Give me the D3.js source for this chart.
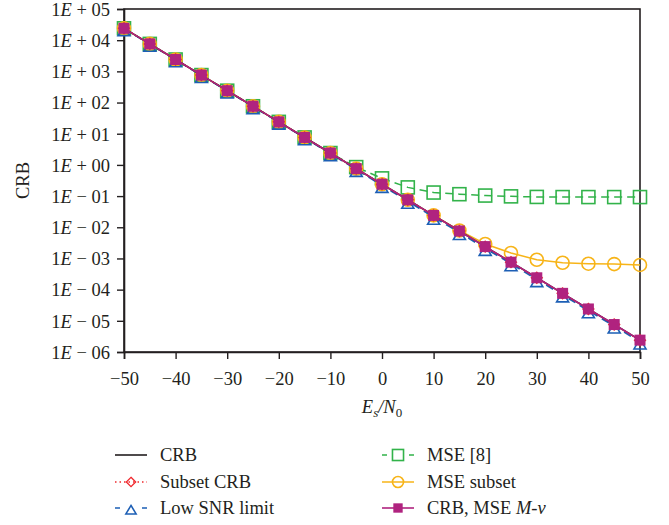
<!DOCTYPE html>
<html>
<head>
<meta charset="utf-8">
<script src="https://cdn.jsdelivr.net/npm/d3@7"></script>
<style>
  html, body { margin: 0; padding: 0; background: #fff; }
  svg { display: block; }
  text { font-family: "Liberation Serif", "DejaVu Serif", serif; fill: #231f20; }
</style>
</head>
<body>
<svg id="chart" width="669" height="525"></svg>
<script>
// Es/N0 (dB) sample points
const snr = [-50, -45, -40, -35, -30, -25, -20, -15, -10, -5, 0, 5, 10, 15, 20, 25, 30, 35, 40, 45, 50];

// Cramér–Rao bound
const crb = [24000, 7600, 2400, 760, 240, 76, 24, 7.6, 2.4, 0.76, 0.24, 0.076, 0.024, 0.0076, 0.0024,
             7.6e-4, 2.4e-4, 7.6e-5, 2.4e-5, 7.6e-6, 2.4e-6];
// Subset CRB
const subsetCrb = [24000, 7600, 2400, 760, 240, 76, 24, 7.6, 2.4, 0.76, 0.24, 0.076, 0.024, 0.0076, 0.0024,
                   7.6e-4, 2.4e-4, 7.6e-5, 2.4e-5, 7.6e-6, 2.4e-6];
// Low SNR limit
const lowSnr = [23500, 7400, 2350, 740, 235, 74, 23.5, 7.4, 2.3, 0.72, 0.22, 0.068, 0.021, 0.0068, 0.0021,
                6.8e-4, 2.1e-4, 6.8e-5, 2.1e-5, 6.8e-6, 2.1e-6];
// MSE of the estimator from [8]
const mse8 = [24000, 7600, 2400, 760, 240, 76, 24, 7.6, 2.4, 0.85, 0.37, 0.19, 0.13, 0.115, 0.104,
              0.098, 0.094, 0.093, 0.093, 0.093, 0.093];
// MSE of the subset estimator
const mseSubset = [24000, 7600, 2400, 760, 240, 76, 24, 7.6, 2.4, 0.76, 0.24, 0.076, 0.024, 0.0079, 0.0029,
                   0.0015, 9.1e-4, 7.3e-4, 6.8e-4, 6.6e-4, 6.2e-4];
// CRB and MSE of the M-nu estimator
const crbMnu = [24000, 7600, 2400, 760, 240, 76, 24, 7.6, 2.4, 0.76, 0.24, 0.076, 0.024, 0.0076, 0.0024,
                7.6e-4, 2.4e-4, 7.6e-5, 2.4e-5, 7.6e-6, 2.4e-6];

// Axis ticks
const xTicks = [-50, -40, -30, -20, -10, 0, 10, 20, 30, 40, 50];
const yExponents = [5, 4, 3, 2, 1, 0, -1, -2, -3, -4, -5, -6];

const svg = d3.select("#chart");
const L = 124, R = 640, T = 9, B = 352;

const x = d3.scaleLinear().domain([-50, 50]).range([L, R]);
const y = d3.scaleLog().domain([1e-6, 1e5]).range([B, T]);

// Plot frame
svg.append("rect").attr("x", L).attr("y", T).attr("width", R - L).attr("height", B - T)
  .attr("fill", "none").attr("stroke", "#231f20").attr("stroke-width", 1.6);

// Y axis
const yAxis = d3.axisLeft(y).tickValues(yExponents.map(e => Math.pow(10, e)))
  .tickSize(7).tickFormat(() => "");
const gy = svg.append("g").attr("transform", `translate(${L},0)`).call(yAxis);
gy.select(".domain").attr("stroke", "#231f20").attr("stroke-width", 1.6);
gy.selectAll(".tick line").attr("stroke", "#231f20").attr("stroke-width", 1.4);
gy.selectAll(".tick").each(function(d) {
  const e = Math.round(Math.log10(d));
  const sign = e < 0 ? "\u2212" : "+";
  const digits = String(Math.abs(e)).padStart(2, "0");
  const t = d3.select(this).append("text")
    .attr("x", -14).attr("dy", "0.34em")
    .attr("text-anchor", "end")
    .attr("xml:space", "preserve")
    .style("font-size", "18.5px");
  t.append("tspan").text("1");
  t.append("tspan").style("font-style", "italic").text("E");
  t.append("tspan").text(` ${sign} ${digits}`);
});

// X axis
const xAxis = d3.axisBottom(x).tickValues(xTicks).tickSize(7)
  .tickFormat(d => d < 0 ? "\u2212" + Math.abs(d) : String(d));
const gx = svg.append("g").attr("transform", `translate(0,${B})`).call(xAxis);
gx.select(".domain").attr("stroke", "#231f20").attr("stroke-width", 1.6);
gx.selectAll(".tick line").attr("stroke", "#231f20").attr("stroke-width", 1.4);
gx.selectAll(".tick text").attr("y", 20).attr("dy", "0.71em")
  .style("font-size", "18.5px").style("font-family", "Liberation Serif, serif").attr("fill", "#231f20");

// Axis titles
svg.append("text").attr("transform", `translate(29,${(T + B) / 2}) rotate(-90)`)
  .attr("text-anchor", "middle").style("font-size", "18.5px").text("CRB");
const xt = svg.append("text").attr("x", (L + R) / 2).attr("y", 413)
  .attr("text-anchor", "middle").style("font-size", "18.5px");
xt.append("tspan").style("font-style", "italic").text("E");
xt.append("tspan").style("font-style", "italic").attr("dy", 4).style("font-size", "13px").text("s");
xt.append("tspan").style("font-style", "italic").attr("dy", -4).text("/N");
xt.append("tspan").attr("dy", 4).style("font-size", "13px").text("0");

// Marker renderers (k scales the glyph, used smaller in the legend)
const markers = {
  squareOpen: (g, s, k = 1) => g.append("rect").attr("x", -6.5 * k).attr("y", -6.5 * k)
      .attr("width", 13 * k).attr("height", 13 * k)
      .attr("fill", "none").attr("stroke", s.color).attr("stroke-width", 1.6),
  circle: (g, s, k = 1) => g.append("circle").attr("r", 6.5 * k)
      .attr("fill", "none").attr("stroke", s.color).attr("stroke-width", 1.6),
  triangle: (g, s, k = 1) => g.append("path")
      .attr("d", `M0,${-3 * k} L${6 * k},${7 * k} L${-6 * k},${7 * k} Z`)
      .attr("fill", "none").attr("stroke", s.color).attr("stroke-width", 1.6),
  diamond: (g, s, k = 1) => g.append("path")
      .attr("d", `M0,${-5.5 * k} L${5.5 * k},0 L0,${5.5 * k} L${-5.5 * k},0 Z`)
      .attr("fill", "none").attr("stroke", s.color).attr("stroke-width", 1.3),
  squareFilled: (g, s, k = 1) => g.append("rect").attr("x", -5.5 * k).attr("y", -5.5 * k)
      .attr("width", 11 * k).attr("height", 11 * k)
      .attr("fill", s.color).attr("stroke", "none"),
  none: () => {}
};

// Series, listed in drawing order (back to front)
const series = [
  { name: "MSE [8]", values: mse8, color: "#32b34a", dash: "8,5", width: 1.5, marker: "squareOpen" },
  { name: "MSE subset", values: mseSubset, color: "#f7b418", dash: null, width: 1.5, marker: "circle" },
  { name: "Low SNR limit", values: lowSnr, color: "#1d5fb5", dash: "8,5", width: 1.6, marker: "triangle" },
  { name: "CRB", values: crb, color: "#231f20", dash: null, width: 1.6, marker: "none" },
  { name: "Subset CRB", values: subsetCrb, color: "#f0282d", dash: "1.5,3", width: 1.5, marker: "diamond" },
  { name: "CRB, MSE M-\u03bd", values: crbMnu, color: "#b0237f", dash: null, width: 1.6, marker: "squareFilled" }
];

const line = d3.line().x((d, i) => x(snr[i])).y(d => y(d));
const plot = svg.append("g");
series.forEach(s => {
  plot.append("path").datum(s.values).attr("d", line)
    .attr("fill", "none").attr("stroke", s.color).attr("stroke-width", s.width)
    .attr("stroke-dasharray", s.dash);
  s.values.forEach((v, i) => {
    const g = plot.append("g").attr("transform", `translate(${x(snr[i])},${y(v)})`);
    markers[s.marker](g, s);
  });
});

// Legend
const legendItems = [
  { s: series[3], col: 0, row: 0 },
  { s: series[4], col: 0, row: 1 },
  { s: series[2], col: 0, row: 2 },
  { s: series[0], col: 1, row: 0 },
  { s: series[1], col: 1, row: 1 },
  { s: series[5], col: 1, row: 2 }
];
const colX = [115, 382], rowY = [455, 482, 508];
legendItems.forEach(it => {
  const s = it.s;
  const g = svg.append("g").attr("transform", `translate(${colX[it.col]},${rowY[it.row]})`);
  let dash = s.dash;
  if (s.name === "MSE [8]" || s.name === "Low SNR limit") dash = "5,22,5";
  g.append("line").attr("x1", 0).attr("x2", 32).attr("y1", 0).attr("y2", 0)
    .attr("stroke", s.color).attr("stroke-width", s.width).attr("stroke-dasharray", dash);
  const m = g.append("g").attr("transform", "translate(16,0)");
  markers[s.marker](m, s, 0.85);
  const t = g.append("text").attr("x", 45).attr("dy", "0.34em").style("font-size", "18.5px");
  if (s.name.startsWith("CRB, MSE")) {
    t.append("tspan").text("CRB, MSE ");
    t.append("tspan").style("font-style", "italic").text("M");
    t.append("tspan").text("-");
    t.append("tspan").style("font-style", "italic").text("\u03bd");
  } else {
    t.text(s.name);
  }
});
</script>
</body>
</html>
